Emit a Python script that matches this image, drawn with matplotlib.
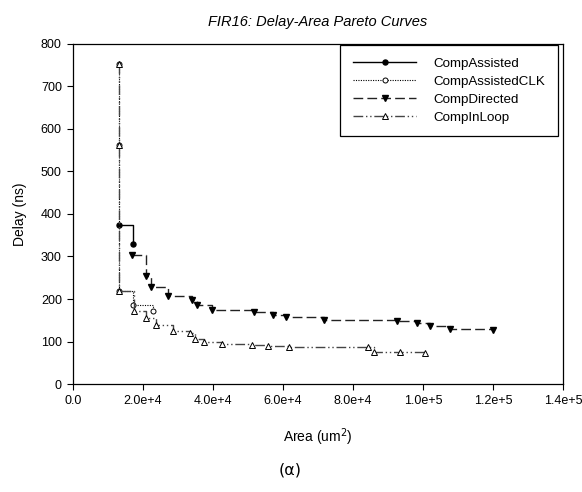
import matplotlib
matplotlib.use('Agg')
import matplotlib.pyplot as plt

plt.rcParams['font.family'] = ['Liberation Sans', 'DejaVu Sans']

# FIR16 pareto points: area (um^2) vs delay (ns)
assisted_area = [13100, 17100]
assisted_delay = [375, 329]

clk_area = [13100, 13100, 13100, 17100, 22800]
clk_delay = [752, 562, 220, 186, 172]

directed_area = [16800, 20900, 22200, 27200, 34100, 35500, 39600, 51700,
                 57000, 60800, 71600, 92500, 98400, 102000, 107700, 119900]
directed_delay = [303, 254, 229, 208, 198, 185, 174, 169,
                  162, 157, 151, 148, 143, 136, 130, 127]

inloop_area = [13100, 13100, 13100, 17300, 20800, 23600, 28700, 33400, 34900,
               37400, 42600, 51100, 55800, 61800, 84200, 85900, 93400, 100500]
inloop_delay = [752, 562, 220, 172, 155, 139, 125, 120, 107,
                99, 94, 92, 89, 88, 88, 75, 75, 72]

xticks = [0, 20000, 40000, 60000, 80000, 100000, 120000, 140000]
xtick_labels = ['0.0', '2.0e+4', '4.0e+4', '6.0e+4', '8.0e+4', '1.0e+5', '1.2e+5', '1.4e+5']
yticks = [0, 100, 200, 300, 400, 500, 600, 700, 800]

fig = plt.figure(figsize=(5.82, 4.92), dpi=100)
ax = fig.add_axes([0.1254, 0.2195, 0.8420, 0.6911])

ax.plot(assisted_area, assisted_delay, '-', color='black', lw=1.0,
        marker='o', ms=3.6, mfc='black', mec='black',
        drawstyle='steps-post', label='CompAssisted')
ax.plot(clk_area, clk_delay, color='black', lw=0.8, ls=(0, (1, 1.2)),
        marker='o', ms=3.6, mfc='white', mec='black', mew=0.7,
        drawstyle='steps-post', label='CompAssistedCLK')
ax.plot(directed_area, directed_delay, color='#222222', lw=1.0, ls=(0, (7, 3)),
        marker='v', ms=4.6, mfc='black', mec='black',
        drawstyle='steps-post', label='CompDirected')
ax.plot(inloop_area, inloop_delay, color='#444444', lw=1.0,
        ls=(0, (7, 2, 1, 2, 1, 2)),
        marker='^', ms=4.6, mfc='white', mec='black', mew=0.7,
        drawstyle='steps-post', label='CompInLoop')

ax.set_xlim(0, 140000)
ax.set_ylim(0, 800)
ax.set_xticks(xticks)
ax.set_xticklabels(xtick_labels)
ax.set_yticks(yticks)
ax.tick_params(direction='out', length=4, width=0.8, labelsize=9,
               top=False, right=False, pad=4)
for sp in ax.spines.values():
    sp.set_linewidth(0.9)

ax.set_xlabel('Area (um$^2$)', fontsize=10, labelpad=14)
ax.set_ylabel('Delay (ns)', fontsize=10, labelpad=10)
ax.set_title('FIR16: Delay-Area Pareto Curves', fontsize=10.5, style='italic', pad=13)

leg = ax.legend(loc='upper right', bbox_to_anchor=(0.990, 0.997), fontsize=9.6,
                handlelength=4.75, handletextpad=1.3, labelspacing=0.42,
                borderpad=0.95, fancybox=False, framealpha=1,
                edgecolor='black', borderaxespad=0)
leg.get_frame().set_linewidth(0.9)

fig.text(0.498, 0.045, '(α)', ha='center', va='center', fontsize=11.5,
         family=['DejaVu Sans'])

fig.savefig('out.png', dpi=100)
